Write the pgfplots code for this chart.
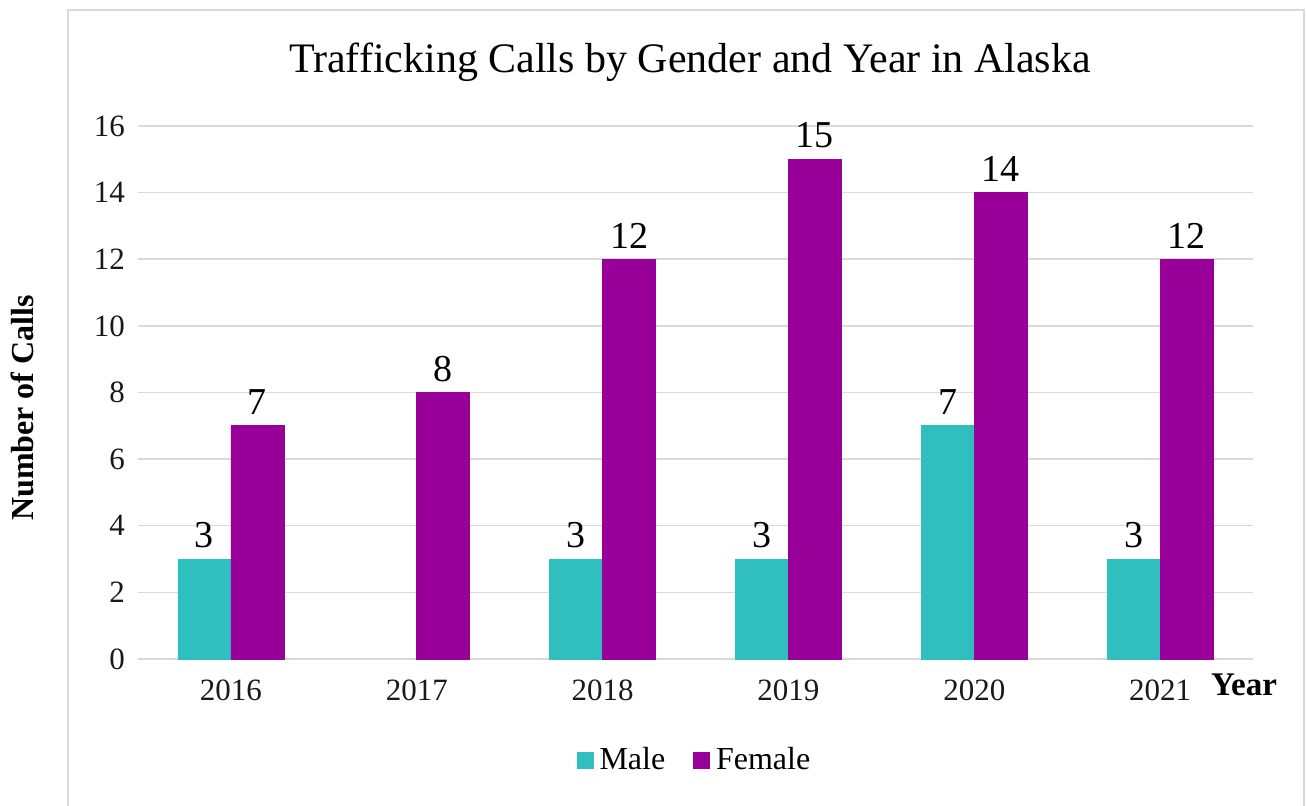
\documentclass[border=0pt]{standalone}
\usepackage{fontspec}
\setmainfont{Liberation Serif}
\usepackage{pgfplots}
\pgfplotsset{compat=1.18}
\definecolor{male}{RGB}{47,191,191}
\definecolor{female}{RGB}{153,0,153}
\definecolor{gridc}{RGB}{217,217,217}
\begin{document}
\begin{tikzpicture}
\useasboundingbox (0,0) rectangle (653pt,403pt);
\draw[gridc, line width=1pt] (34pt,-2pt) -- (34pt,398pt) -- (652pt,398pt) -- (652pt,-2pt);
\begin{axis}[
  at={(69pt,73.5pt)}, anchor=south west,
  scale only axis, width=557.5pt, height=266.5pt,
  ybar, bar width=26.5pt,
  xmin=-0.5, xmax=5.5, ymin=0, ymax=16,
  xtick={0,1,2,3,4,5},
  xticklabels={2016,2017,2018,2019,2020,2021},
  ytick={0,2,...,16},
  ymajorgrids, grid style={gridc, line width=0.75pt},
  axis x line*=bottom, axis y line*=left,
  y axis line style={draw=none},
  x axis line style={gridc, line width=0.75pt, -},
  major tick length=0pt,
  /pgf/number format/assume math mode=true,
  tick label style={font=\fontsize{15.5}{18}\selectfont, color=black!90},
  yticklabel style={xshift=-3pt},
  xticklabel style={yshift=-7pt},
  nodes near coords,
  every node near coord/.append style={font=\fontsize{19}{21}\selectfont, color=black, yshift=2pt},
  legend style={at={(0.5,-0.19)}, anchor=center, draw=none, legend columns=2,
    font=\fontsize{16}{18}\selectfont,
    /tikz/every odd column/.append style={column sep=1pt},
    /tikz/every even column/.append style={column sep=12pt}},
  legend image code/.code={\fill[#1] (0pt,-4pt) rectangle (8pt,4pt);},
  clip=false,
]
\addplot[fill=male, draw=male, bar shift=-13.25pt] coordinates {(0,3) (2,3) (3,3) (4,7) (5,3)};
\addplot[fill=female, draw=female, bar shift=13.25pt] coordinates {(0,7) (1,8) (2,12) (3,15) (4,14) (5,12)};
\legend{Male, Female}
\end{axis}
\node[font=\fontsize{21}{25}\selectfont] at (345pt,372pt) {Trafficking Calls by Gender and Year in Alaska};
\node[font=\bfseries\fontsize{16}{19}\selectfont, rotate=90] at (11pt,199pt) {Number of Calls};
\node[font=\bfseries\fontsize{16.5}{19}\selectfont] at (622pt,60.5pt) {Year};
\end{tikzpicture}
\end{document}
